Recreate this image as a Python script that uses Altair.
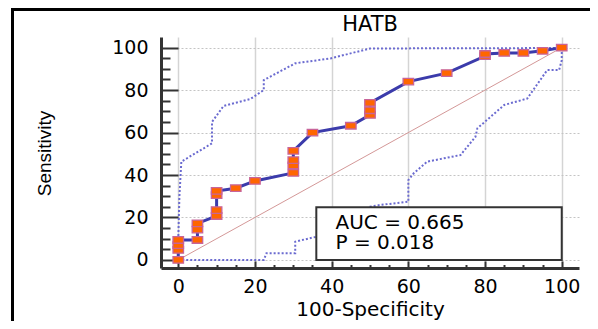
import altair as alt
import pandas as pd

# ROC curve points (100-Specificity, Sensitivity)
roc_x = [0, 0, 0, 0, 5, 5, 5, 10, 10, 10, 10, 15, 20, 30, 30, 30, 30, 35, 45, 50, 50, 50, 60, 70, 80, 80, 85, 90, 95, 100]
roc_y = [0, 4.7, 7.0, 9.4, 9.4, 14.3, 17.2, 20.7, 23.5, 30.5, 32.5, 33.8, 37.2, 41.0, 44.5, 47.0, 51.4, 60.0, 63.2, 68.3, 70.5, 74.0, 84.0, 88.0, 96.0, 97.0, 97.5, 97.5, 98.5, 100]

# Upper confidence bound
upper_x = [0, 0.3, 0.8, 8.8, 8.8, 11.8, 18.8, 22.3, 22.3, 30.5, 39.7, 50.0, 100]
upper_y = [9.4, 30.0, 46.3, 54.9, 65.0, 72.5, 75.8, 80.0, 84.7, 92.6, 94.9, 99.6, 99.8]

# Lower confidence bound
lower_x = [0, 22.3, 23.0, 30.5, 30.5, 36.2, 43.0, 50.0, 52.7, 60.0, 60.0, 61.4, 64.9, 73.6, 77.5, 78.0, 85.0, 91.0, 96.2, 99.3, 100, 100]
lower_y = [0, 0, 3.2, 3.2, 8.6, 11.0, 18.0, 25.1, 25.9, 27.4, 37.6, 40.8, 46.3, 49.4, 58.0, 62.0, 73.0, 76.0, 89.4, 89.4, 94.0, 99.5]

# Reference diagonal
diag_x = [0, 100]
diag_y = [0, 100]

# Annotation box and text
box_x, box_x2, box_y, box_y2 = [36], [100], [0], [24.8]
ann_text = ["AUC = 0.665", "P = 0.018"]
ann_x = [41]
ann_y = [14.6]

title_text = ["HATB"]

tick_values = list(range(0, 101, 5))

roc_df = pd.DataFrame({"x": roc_x, "y": roc_y, "i": list(range(len(roc_x)))})
up_df = pd.DataFrame({"x": upper_x, "y": upper_y, "i": list(range(len(upper_x)))})
lo_df = pd.DataFrame({"x": lower_x, "y": lower_y, "i": list(range(len(lower_x)))})
diag_df = pd.DataFrame({"x": diag_x, "y": diag_y})
box_df = pd.DataFrame({"x": box_x, "x2": box_x2, "y": box_y, "y2": box_y2})
ann_df = pd.DataFrame({"t": [ann_text], "x": ann_x, "y": ann_y})
title_df = pd.DataFrame({"t": title_text})

xscale = alt.Scale(domain=[-4.5, 104.5], nice=False, zero=False)
yscale = alt.Scale(domain=[-3.8, 105], nice=False, zero=False)

major = "datum.value % 20 === 0"

xaxis = alt.Axis(
    values=tick_values,
    labelExpr=f"{major} ? datum.label : ''",
    tickSize=alt.ExprRef(expr=f"{major} ? -7 : -3.5"),
    labelPadding=16,
    labelFont="DejaVu Sans", labelFontSize=19, labelColor="black",
    labelBaseline="top", labelFlush=False, labelOverlap=False,
    domainColor="#333333", domainWidth=3,
    tickColor="#333333", tickWidth=2,
    grid=True, gridColor="#d4d4d4", gridWidth=1.5,
    gridOpacity={"condition": {"test": major, "value": 1}, "value": 0},
    title="100-Specificity", titleFont="DejaVu Sans", titleFontSize=20,
    titleFontWeight="normal", titleColor="black",
    titleX=209, titleY=47, titleBaseline="alphabetic", titleAlign="center",
)

yaxis = alt.Axis(
    values=tick_values,
    labelExpr=f"{major} ? datum.label : ''",
    tickSize=alt.ExprRef(expr=f"{major} ? -17 : -9"),
    labelPadding=30,
    labelFont="DejaVu Sans", labelFontSize=19, labelColor="black",
    labelBaseline="middle", labelFlush=False, labelOverlap=False,
    domainColor="#333333", domainWidth=3,
    tickColor="#333333", tickWidth=2,
    grid=True, gridColor="#c4c4c4", gridWidth=1, gridDash=[2, 2],
    gridOpacity={"condition": {"test": major, "value": 1}, "value": 0},
    title="Sensitivity", titleFont="Liberation Sans", titleFontSize=19,
    titleFontWeight="normal", titleColor="black",
    titleX=-111, titleY=116, titleAngle=270, titleBaseline="alphabetic", titleAlign="center",
)

X = lambda: alt.X("x:Q", scale=xscale, axis=xaxis)
Y = lambda: alt.Y("y:Q", scale=yscale, axis=yaxis)

upper = alt.Chart(up_df).mark_line(color="#6b6bd0", strokeWidth=2, strokeDash=[2, 2]).encode(
    x=X(), y=Y(), order="i:Q")
lower = alt.Chart(lo_df).mark_line(color="#6b6bd0", strokeWidth=2, strokeDash=[2, 2]).encode(
    x=X(), y=Y(), order="i:Q")
diag = alt.Chart(diag_df).mark_line(color="#d49898", strokeWidth=1).encode(x=X(), y=Y())
roc_line = alt.Chart(roc_df).mark_line(color="#3b3bab", strokeWidth=3).encode(
    x=X(), y=Y(), order="i:Q")
roc_pts = alt.Chart(roc_df).mark_point(
    shape="M-1,-0.62L1,-0.62L1,0.62L-1,0.62Z", size=110, filled=True,
    fill="#ff6600", stroke="#c8649a", strokeWidth=1.3, opacity=1,
).encode(x=X(), y=Y())
box = alt.Chart(box_df).mark_rect(fill="white", stroke="#333333", strokeWidth=2).encode(
    x=X(), x2="x2:Q", y=Y(), y2="y2:Q")
ann = alt.Chart(ann_df).mark_text(
    font="DejaVu Sans", fontSize=20, align="left", baseline="alphabetic", color="black",
    lineHeight=20,
).encode(x=X(), y=Y(), text="t")

title = alt.Chart(title_df).mark_text(
    font="DejaVu Sans", fontSize=21, align="center", baseline="alphabetic", color="black"
).encode(x=alt.value(209), y=alt.value(-6), text="t:N")

frame_left = alt.Chart(box_df).mark_rule(color="black", strokeWidth=3).encode(
    x=alt.value(-148.5), y=alt.value(-27.5), y2=alt.value(300))
frame_top = alt.Chart(box_df).mark_rule(color="black", strokeWidth=3).encode(
    x=alt.value(-150), x2=alt.value(440), y=alt.value(-27.5))

chart = alt.layer(
    upper, lower, diag, roc_line, roc_pts, box, ann, title, frame_left, frame_top
).properties(
    width=418,
    height=231,
    autosize=alt.AutoSizeParams(type="none"),
    padding={"left": 153, "top": 29, "right": 11, "bottom": 53},
).configure_view(strokeWidth=0)

chart.save("out.html", embed_options={"renderer": "svg", "actions": False})
